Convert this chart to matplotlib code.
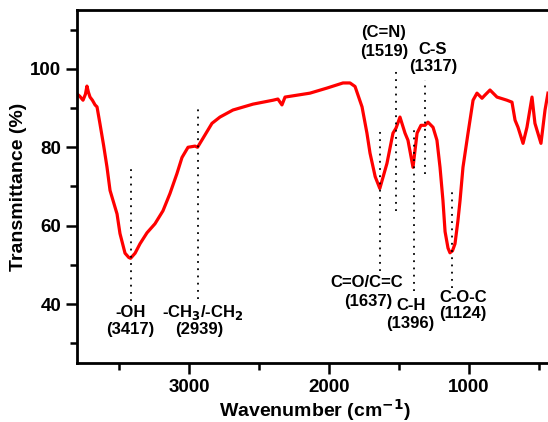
import matplotlib
matplotlib.use("Agg")
import matplotlib.pyplot as plt

plt.rcParams['font.family'] = ['Liberation Sans', 'DejaVu Sans']
plt.rcParams['font.weight'] = 'bold'
plt.rcParams['mathtext.default'] = 'bf'

# FTIR spectrum (wavenumber cm-1, transmittance %)
wavenumber = [3800, 3780, 3757, 3740, 3729, 3718, 3707, 3690, 3671, 3657, 3636,
              3610, 3586, 3564, 3514, 3493, 3457, 3430, 3417, 3385, 3350, 3300,
              3243, 3186, 3136, 3086, 3050, 3007, 2957, 2939, 2900, 2836, 2779,
              2686, 2543, 2400, 2365, 2336, 2314, 2136, 2014, 1900, 1850, 1814,
              1764, 1729, 1707, 1670, 1637, 1586, 1543, 1521, 1493, 1457, 1436,
              1400, 1371, 1343, 1314, 1293, 1257, 1229, 1207, 1186, 1171, 1150,
              1136, 1118, 1100, 1079, 1064, 1043, 1007, 971, 943, 907, 886, 850,
              800, 729, 693, 671, 650, 614, 586, 550, 529, 486, 457, 436]
transmittance = [93.6, 93.0, 92.0, 93.5, 95.6, 94.0, 92.8, 92.0, 90.8, 90.3, 86.0,
                 80.5, 75.0, 69.0, 63.0, 58.0, 53.0, 51.9, 51.7, 53.0, 55.4, 58.2,
                 60.5, 63.8, 68.2, 73.3, 77.4, 80.0, 80.3, 80.0, 82.3, 86.1, 87.7,
                 89.5, 91.0, 92.0, 92.3, 90.8, 92.8, 93.8, 95.1, 96.4, 96.4, 95.5,
                 90.3, 83.6, 78.5, 72.5, 69.5, 75.9, 83.6, 84.9, 87.7, 83.6, 81.8,
                 74.9, 83.6, 85.6, 85.6, 86.4, 85.1, 81.8, 74.9, 66.4, 58.5, 54.3,
                 53.1, 53.6, 55.4, 61.3, 66.4, 74.9, 83.6, 92.0, 93.8, 92.5, 93.3,
                 94.6, 92.8, 92.0, 91.5, 86.9, 85.1, 81.0, 85.1, 92.8, 86.1, 81.0,
                 89.5, 93.8]

# Peak markers: position, dotted line bottom/top, label lines and label anchor
peak_pos = [3417, 2939, 1637, 1519, 1396, 1317, 1124]
line_lo = [40.8, 41.3, 48.5, 63.8, 43.3, 73.3, 44.1]
line_hi = [74.6, 90.5, 85.1, 100.5, 85.1, 97.2, 68.5]
label_top = ['-OH', '-CH$_3$/-CH$_2$', 'C=O/C=C', '(C=N)', 'C-H', 'C-S', 'C-O-C']
label_bot = ['(3417)', '(2939)', '(1637)', '(1519)', '(1396)', '(1317)', '(1124)']
label_x_top = [3417, 2900, 1729, 1607, 1414, 1257, 1043]
label_x_bot = [3417, 2929, 1722, 1607, 1420, 1257, 1043]
label_y_top = [38.0, 38.0, 45.4, 109.2, 39.7, 104.9, 41.8]
label_y_bot = [33.6, 33.6, 40.8, 104.4, 35.0, 100.5, 37.5]

fig = plt.figure(figsize=(5.48, 4.22), dpi=100)
ax = fig.add_axes([77/548, (422-363)/422, (553-77)/548, (363-10)/422])

ax.plot(wavenumber, transmittance, color='#ff0000', lw=2.3)

for p, lo, hi in zip(peak_pos, line_lo, line_hi):
    ax.plot([p, p], [lo, hi], color='black', lw=1.3, ls=(0, (1, 3)))

for xt, xb, t1, t2, y1, y2 in zip(label_x_top, label_x_bot, label_top, label_bot,
                                  label_y_top, label_y_bot):
    ax.text(xt, y1, t1, ha='center', va='center', fontsize=12, fontweight='bold')
    ax.text(xb, y2, t2, ha='center', va='center', fontsize=12, fontweight='bold')

ax.set_xlim(3800, 400)
ax.set_ylim(25, 115)
ax.set_xticks([3000, 2000, 1000])
ax.set_xticks([3500, 2500, 1500, 500], minor=True)
ax.set_yticks([40, 60, 80, 100])
ax.set_yticks([30, 50, 70, 90, 110], minor=True)
ax.tick_params(axis='both', which='major', direction='out', length=8, width=1.8,
               labelsize=13.5)
ax.tick_params(axis='both', which='minor', direction='out', length=5, width=1.8)
for lab in ax.get_xticklabels() + ax.get_yticklabels():
    lab.set_fontweight('bold')
for s in ax.spines.values():
    s.set_linewidth(2)

ax.set_xlabel('Wavenumber (cm$^{\\mathbf{-1}}$)', fontsize=14, fontweight='bold', labelpad=1)
ax.set_ylabel('Transmittance (%)', fontsize=14, fontweight='bold', labelpad=2)

fig.savefig('out.png', dpi=100)
